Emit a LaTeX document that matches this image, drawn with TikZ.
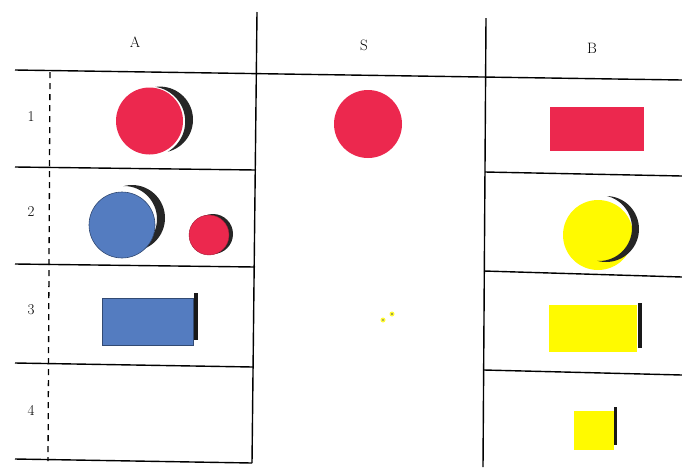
\documentclass[tikz,border=0pt]{standalone}
\begin{document}
\begin{tikzpicture}[x=1pt,y=-1pt,
  grid/.style={line width=1.4pt,black},
  dashline/.style={line width=1.3pt,black,dash pattern=on 6pt off 5pt},
  lbl/.style={font=\fontsize{15}{17}\selectfont,inner sep=0pt},
  shade/.style={fill=black!85},
  barstyle/.style={fill=black!90}]
\definecolor{cred}{RGB}{236,40,78}
\definecolor{cblue}{RGB}{84,124,192}
\definecolor{cyel}{RGB}{255,250,0}
\newcommand{\mooncres}[6]{\begin{scope}\clip (#1,#2) circle (#3pt);
  \fill[black!85,even odd rule] ({#1-#3-3},{#2-#3-3}) rectangle ({#1+#3+3},{#2+#3+3}) (#4,#5) circle (#6pt);\end{scope}}
\useasboundingbox (0,0) rectangle (682,467);
\fill[white] (0,0) rectangle (682,467);
% grid
\coordinate (h0) at (15,70); \coordinate (h1) at (682,80);
\draw[grid] (h0) -- (h1);
\coordinate (va0) at (257,12); \coordinate (va1) at (252,463);
\draw[grid] (va0) -- (va1);
\coordinate (vb0) at (486,18); \coordinate (vb1) at (483,467);
\draw[grid] (vb0) -- (vb1);
\coordinate (a1l) at (15,167); \coordinate (a1r) at (256,170);
\coordinate (a2l) at (15,264); \coordinate (a2r) at (255,267);
\coordinate (a3l) at (15,363); \coordinate (a3r) at (253,367);
\coordinate (a4l) at (15,459); \coordinate (a4r) at (252,463);
\draw[grid] (a1l) -- (a1r); \draw[grid] (a2l) -- (a2r);
\draw[grid] (a3l) -- (a3r); \draw[grid] (a4l) -- (a4r);
\coordinate (b1l) at (485,172); \coordinate (b1r) at (682,176);
\coordinate (b2l) at (484,271); \coordinate (b2r) at (682,277);
\coordinate (b3l) at (484,370); \coordinate (b3r) at (682,375);
\draw[grid] (b1l) -- (b1r); \draw[grid] (b2l) -- (b2r); \draw[grid] (b3l) -- (b3r);
\coordinate (d0) at (50,72); \coordinate (d1) at (48,461);
\draw[dashline] (d0) -- (d1);
% labels
\node[lbl] (tA) at (135,42) {A};
\node[lbl] (tS) at (364,45) {S};
\node[lbl] (tB) at (592,48) {B};
\node[lbl] (r1) at (31,117) {1};
\node[lbl] (r2) at (31,212) {2};
\node[lbl] (r3) at (31,310) {3};
\node[lbl] (r4) at (31,410) {4};
% row 1
\mooncres{160}{119.6}{33}{150.2}{121.5}{35}
\fill[cred] (149.5,121) circle (33.5pt);
\fill[cred] (368,124) circle (34pt);
\fill[cred] (550,107) rectangle (644,151);
% row 2
\mooncres{132}{218}{33}{124}{219}{33}
\fill[cblue,draw=cblue!60!black,line width=0.6pt] (122,225) circle (33pt);
\fill[shade] (213,234) circle (20pt);
\fill[cred,draw=cred!70!black,line width=0.4pt] (209,235) circle (20pt);
\fill[cyel] (598,235) circle (35pt);
\mooncres{606}{229}{33}{599}{228}{33}
% row 3
\fill[cblue,draw=cblue!60!black,line width=0.6pt] (102,298) rectangle (193,345);
\fill[barstyle] (194,293) rectangle (198,340);
\fill[cyel] (549,305) rectangle (637,352);
\fill[barstyle] (638,303) rectangle (642,348);
\fill[cyel!80!white] (383,320) circle (2.5pt);
\fill[cyel!80!white] (392,314) circle (2.5pt);
\fill[black!60] (383,320) circle (0.8pt);
\fill[black!70] (392,314) circle (0.9pt);
% row 4
\fill[cyel] (574,411) rectangle (614,450);
\fill[barstyle] (614,407) rectangle (617,445);
\end{tikzpicture}
\end{document}
